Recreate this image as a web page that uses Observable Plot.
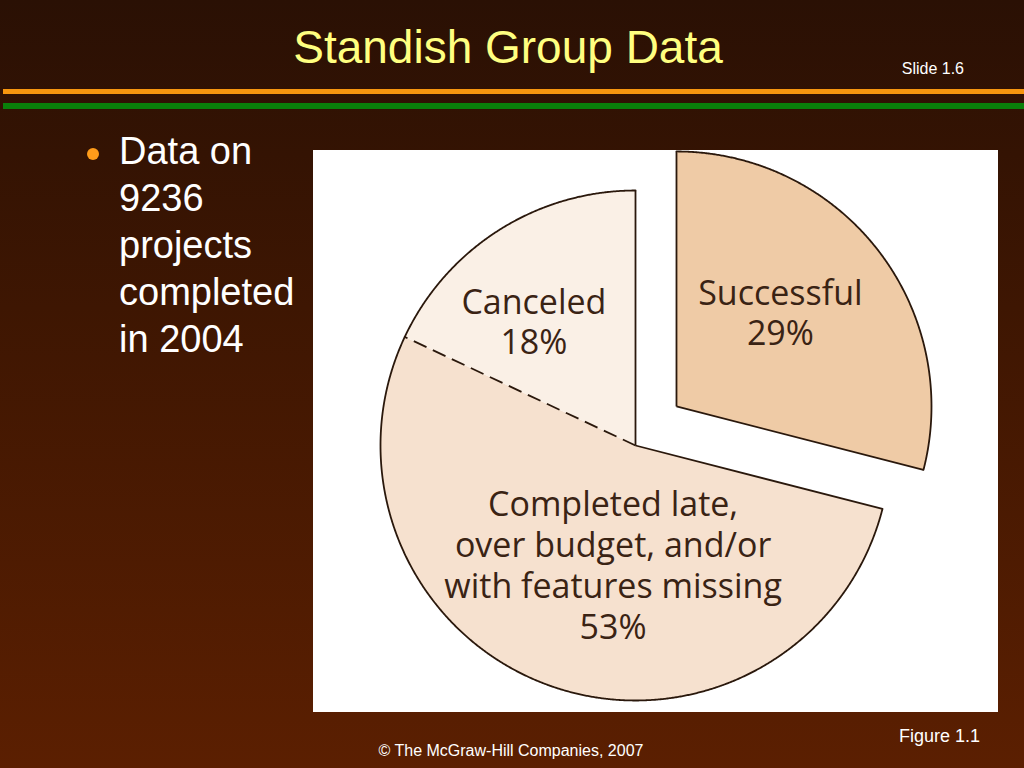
<!DOCTYPE html>
<html>
<head>
<meta charset="utf-8">
<script src="https://cdn.jsdelivr.net/npm/d3@7"></script>
<script src="https://cdn.jsdelivr.net/npm/@observablehq/plot@0.6"></script>
<style>
  html, body { margin: 0; padding: 0; }
  body {
    width: 1024px; height: 768px; overflow: hidden; position: relative;
    background: linear-gradient(to bottom, #2a1004 0%, #3e1602 40%, #5b1f01 100%);
    font-family: "Liberation Sans", Arial, sans-serif;
  }
  .abs { position: absolute; white-space: nowrap; }
  #title { left: 0; width: 1016px; text-align: center; top: 24px; font-size: 46px; line-height: 46px; color: #ffff80; }
  #slide { right: 60px; top: 61px; font-size: 16px; line-height: 16px; color: #ffffff; }
  .rule { position: absolute; left: 3px; right: 0; }
  #orange { top: 89px; height: 5px; background: #f7960f; }
  #green { top: 103px; height: 6px; background: #0a800a; }
  #bullet { left: 87px; top: 148px; width: 12px; height: 12px; border-radius: 50%; background: #ff9c1a; }
  #btext { left: 119px; top: 128px; font-size: 38px; line-height: 47px; color: #ffffff; }
  #chart { left: 313px; top: 150px; width: 685px; height: 562px; background: #ffffff; }
  #copy { left: 0; width: 1022px; text-align: center; top: 743px; font-size: 16px; line-height: 16px; color: #ffffff; }
  #fig { right: 44px; top: 727px; font-size: 18px; line-height: 18px; color: #ffffff; }
</style>
</head>
<body>
<div id="title" class="abs">Standish Group Data</div>
<div id="slide" class="abs">Slide 1.6</div>
<div id="orange" class="rule"></div>
<div id="green" class="rule"></div>
<div id="bullet" class="abs"></div>
<div id="btext" class="abs">Data on<br>9236<br>projects<br>completed<br>in 2004</div>
<div id="chart" class="abs"></div>
<div id="fig" class="abs">Figure 1.1</div>
<div id="copy" class="abs">© The McGraw-Hill Companies, 2007</div>
<script>
// ---- data ----
const categories = ["Successful", "Completed late, over budget, and/or with features missing", "Canceled"];
const labelTexts = ["Successful\n29%", "Completed late,\nover budget, and/or\nwith features missing\n53%", "Canceled\n18%"];
const percents = [29, 53, 18];

// ---- styles / layout ----
const fills = ["#efcba6", "#f6e1cf", "#faf0e6"];
const W = 685, H = 562;
const CX = 322, CY = 295, R = 255;                   // pie centre and radius in chart pixels
const explodeDir = [46.4, 0, 0], explodeDist = [56.6, 0, 0]; // degrees clockwise from north, px
const labelDir = [47.8, 190.7, 320.7], labelDist = [140.3, 120.7, 160.4];
const labelSize = [34, 34, 34], labelLH = [40 / 34, 41 / 34, 40 / 34];
const ink = "#2a180c";

const rad = Math.PI / 180;
const pt = (ox, oy, a, r) => ({x: ox + r * Math.sin(a), y: oy - r * Math.cos(a)});

const arcs = d3.pie().sort(null).startAngle(0).endAngle(2 * Math.PI)(percents);
const slices = arcs.map((a, i) => {
  const o = pt(CX, CY, explodeDir[i] * rad, explodeDist[i]);
  return {key: categories[i], a0: a.startAngle, a1: a.endAngle, ox: o.x, oy: o.y, i};
});

const polys = [], arcLines = [], solidEdges = [], dashedEdges = [];
for (const s of slices) {
  const n = Math.ceil((s.a1 - s.a0) / rad * 4);
  polys.push({key: s.key, x: s.ox, y: s.oy});
  for (let k = 0; k <= n; k++) {
    const p = pt(s.ox, s.oy, s.a0 + (s.a1 - s.a0) * k / n, R);
    polys.push({key: s.key, ...p});
    arcLines.push({key: s.key, ...p});
  }
  for (const a of [s.a0, s.a1]) {
    const p = pt(s.ox, s.oy, a, R);
    const e = {x1: s.ox, y1: s.oy, x2: p.x, y2: p.y};
    // the boundary shared by "Completed" and "Canceled" is drawn dashed
    const shared = (s.i === 1 && a === s.a1) || (s.i === 2 && a === s.a0);
    if (shared) { if (s.i === 2) dashedEdges.push(e); } else solidEdges.push(e);
  }
}

const labels = slices.map(s => {
  const p = pt(s.ox, s.oy, labelDir[s.i] * rad, labelDist[s.i]);
  return {text: labelTexts[s.i], ...p, size: labelSize[s.i], lh: labelLH[s.i]};
});

const chart = Plot.plot({
  width: W, height: H, margin: 0,
  x: {domain: [0, W], range: [0, W], axis: null},
  y: {domain: [0, H], range: [0, H], axis: null},
  color: {domain: categories, range: fills},
  style: {background: "#ffffff", overflow: "visible"},
  marks: [
    Plot.line(polys, {x: "x", y: "y", z: "key", fill: "key", stroke: null, curve: "linear-closed"}),
    Plot.line(arcLines, {x: "x", y: "y", z: "key", stroke: ink, strokeWidth: 1.8}),
    Plot.link(solidEdges, {x1: "x1", y1: "y1", x2: "x2", y2: "y2", stroke: ink, strokeWidth: 1.8}),
    Plot.link(dashedEdges, {x1: "x1", y1: "y1", x2: "x2", y2: "y2", stroke: ink, strokeWidth: 1.8, strokeDasharray: "14 7"}),
    ...labels.map(l => Plot.text([l], {
      x: "x", y: "y", text: "text", fill: "#3a2314",
      fontSize: l.size, lineHeight: l.lh, lineAnchor: "middle", textAnchor: "middle",
      fontFamily: "'Open Sans', sans-serif"
    }))
  ]
});
document.getElementById("chart").appendChild(chart);
</script>
</body>
</html>
